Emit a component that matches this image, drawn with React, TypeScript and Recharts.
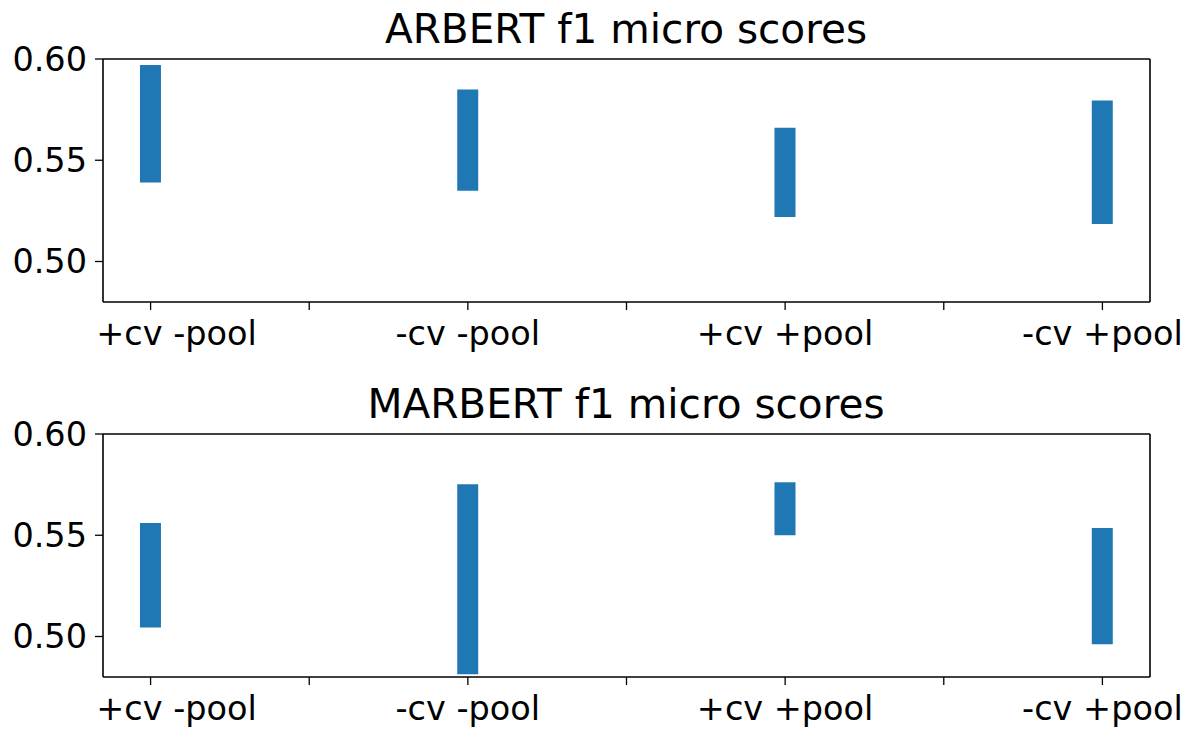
import React from 'react'
import { BarChart, Bar, XAxis, YAxis, ReferenceLine } from 'recharts'

const configs = ['+cv -pool', '-cv -pool', '+cv +pool', '-cv +pool']
const xPositions = [0, 2, 4, 6]
const xTicks = [0, 1, 2, 3, 4, 5, 6]
const yTicks = [0.5, 0.55, 0.6]

const arbertLow = [0.539, 0.535, 0.522, 0.5185]
const arbertHigh = [0.597, 0.585, 0.566, 0.5795]
const marbertLow = [0.5045, 0.4813, 0.550, 0.4962]
const marbertHigh = [0.556, 0.5752, 0.5762, 0.5536]

const BLUE = '#1f77b4'
const FONT = '"DejaVu Sans", sans-serif'
const TICK_FONT = 33.5
const X_DOMAIN: [number, number] = [-0.3, 6.3]
const Y_DOMAIN: [number, number] = [0.48, 0.6]

const buildRows = (low: number[], high: number[]) =>
  xPositions.map((x, i) => ({ x, name: configs[i], range: [low[i], high[i]] }))

const labelFor = (v: number) => {
  const i = xPositions.indexOf(v)
  return i >= 0 ? configs[i] : ''
}

// the first label in the original sits a little right of its tick
function XTick(props: any) {
  const { x, y, payload } = props
  const text = labelFor(payload.value)
  if (!text) return null
  const shift = payload.value === xPositions[0] ? 26 : 0
  return (
    <text
      x={x + shift}
      y={y}
      dy="0.71em"
      textAnchor="middle"
      fill="#000"
      fontSize={TICK_FONT}
      fontFamily={FONT}
    >
      {text}
    </text>
  )
}

function RangePanel({ low, high }: { low: number[]; high: number[] }) {
  const rows = buildRows(low, high)
  const axisLine = { stroke: '#000', strokeWidth: 1.6 }
  return (
    <BarChart
      width={1189}
      height={365}
      data={rows}
      margin={{ top: 59, right: 39, bottom: 0, left: 0 }}
    >
      <XAxis
        dataKey="x"
        type="number"
        domain={X_DOMAIN}
        ticks={xTicks}
        interval={0}
        tick={<XTick />}
        tickSize={8}
        tickMargin={11}
        height={63}
        axisLine={axisLine}
        tickLine={{ stroke: '#000', strokeWidth: 1.3 }}
        allowDataOverflow
      />
      <YAxis
        type="number"
        domain={Y_DOMAIN}
        ticks={yTicks}
        tickFormatter={(v: number) => v.toFixed(2)}
        tick={{ fill: '#000', fontSize: TICK_FONT, fontFamily: FONT }}
        tickSize={8}
        tickMargin={8}
        width={103}
        axisLine={axisLine}
        tickLine={{ stroke: '#000', strokeWidth: 1.3 }}
        allowDataOverflow
      />
      {/* close the frame like matplotlib spines */}
      <ReferenceLine y={0.6} stroke="#000" strokeWidth={1.6} />
      <ReferenceLine x={6.3} stroke="#000" strokeWidth={1.6} />
      <Bar dataKey="range" fill={BLUE} barSize={21} isAnimationActive={false} />
    </BarChart>
  )
}

export default function App() {
  return (
    <div
      style={{
        position: 'absolute',
        left: 0,
        top: 0,
        width: 1189,
        height: 731,
        background: '#fff',
        fontFamily: FONT,
      }}
    >
      <div style={{ position: 'absolute', left: 0, top: 0 }}>
        <RangePanel low={arbertLow} high={arbertHigh} />
      </div>
      <div style={{ position: 'absolute', left: 0, top: 375 }}>
        <RangePanel low={marbertLow} high={marbertHigh} />
      </div>
      <svg
        width={1189}
        height={731}
        style={{ position: 'absolute', left: 0, top: 0, pointerEvents: 'none' }}
      >
        <text x={626} y={43} textAnchor="middle" fontSize={40.6} fontFamily={FONT} fill="#000">
          ARBERT f1 micro scores
        </text>
        <text x={626} y={418} textAnchor="middle" fontSize={40.6} fontFamily={FONT} fill="#000">
          MARBERT f1 micro scores
        </text>
      </svg>
    </div>
  )
}
